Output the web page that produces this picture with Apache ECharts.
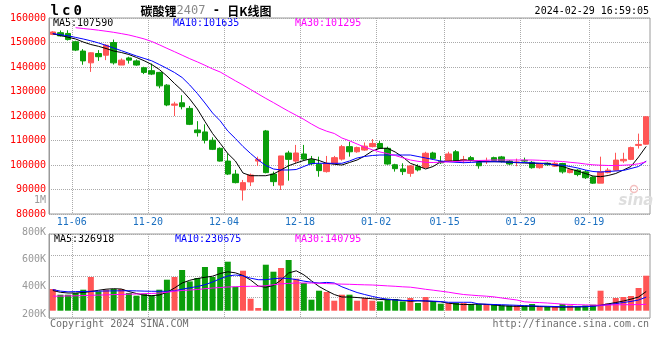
<!DOCTYPE html>
<html><head><meta charset="utf-8">
<script src="https://cdn.jsdelivr.net/npm/echarts/dist/echarts.min.js"></script>
<style>html,body{margin:0;padding:0;background:#fff}#c{width:660px;height:360px}</style>
</head><body><div id="c"></div>
<script>
const dates = ['11-02','11-03','11-06','11-07','11-08','11-09','11-10','11-13','11-14','11-15','11-16','11-17',
'11-20','11-21','11-22','11-23','11-24','11-27','11-28','11-29','11-30','12-01',
'12-04','12-05','12-06','12-07','12-08','12-11','12-12','12-13','12-14','12-15',
'12-18','12-19','12-20','12-21','12-22','12-25','12-26','12-27','12-28','12-29',
'01-02','01-03','01-04','01-05','01-08','01-09','01-10','01-11','01-12',
'01-15','01-16','01-17','01-18','01-19','01-22','01-23','01-24','01-25','01-26',
'01-29','01-30','01-31','02-01','02-02','02-05','02-06','02-07','02-08',
'02-19','02-20','02-21','02-22','02-23','02-26','02-27','02-28','02-29'];
const dateLabels = ['11-06','11-20','12-04','12-18','01-02','01-15','01-29','02-19'];
// [open, close, low, high]
const candles = [
[153300,154300,153000,154600],[154000,152700,152400,154900],[153700,151200,150800,155000],[150300,146900,146500,150700],
[146500,142500,140900,147300],[141700,145800,138000,146000],[145500,144200,142500,146900],[144800,148900,142800,149300],
[150000,141700,141000,151200],[140800,142800,140800,143500],[143700,142800,141400,144200],[142500,140800,140500,143100],
[139700,137800,137100,140100],[138500,137100,136700,141400],[137800,132300,131300,138000],[132600,124500,124000,133000],
[124400,124900,120000,125800],[125400,123800,122700,128500],[123100,116600,116300,124100],[114300,113200,111600,117900],
[113500,110100,108800,116600],[110100,106400,106100,111300],[106800,101600,101400,107200],[101600,96300,95900,104800],
[96300,92800,92500,98000],[89800,92800,85500,93900],[93100,95900,91400,96500],[101600,102300,99600,103400],
[113900,96900,96600,114300],[96300,93200,91400,97300],[91800,103700,89800,103700],[104900,102300,93600,105800],
[101600,104900,100700,108200],[104500,102400,101800,108200],[102200,100500,100000,103700],[100300,97700,95200,103400],
[97300,100700,96900,103700],[100700,103000,100300,103700],[102400,107500,101800,108200],[107500,105400,103400,109500],
[105400,107100,105000,107500],[106100,107700,105800,109200],[107500,108800,107200,110600],[108800,106800,106500,109800],
[106800,100400,100100,107500],[100100,98500,97300,100500],[98400,97300,95900,100700],[96600,99600,95200,100000],
[99300,98000,97400,100300],[99000,104800,98600,105400],[104900,102700,102300,105400],[101400,100900,100400,103700],
[101600,104500,101300,105400],[105400,101800,101400,106100],[102000,102200,100700,103700],[103000,102000,101400,103700],
[101100,99700,98500,101600],[101500,101600,100400,103000],[103000,101800,101400,103400],[103300,101400,101000,103700],
[101600,100400,100000,102000],[101100,101200,99500,102600],[101900,101600,101100,103000],[101100,98900,98500,101600],
[98900,100400,98500,100700],[100700,100100,99700,101000],[99500,100700,99200,101300],[100600,97200,96500,100900],
[96900,98100,96600,98400],[97900,96100,95400,98300],[97200,94800,94300,97900],[95100,92600,92300,95400],
[92600,97200,92600,103400],[96900,97900,96600,98800],[97900,102000,97600,105000],[101700,102300,100900,105000],
[102300,107100,102000,107500],[108000,108400,106700,112800],[108500,119700,108300,119800]];
const ma5 = [153550,152860,152160,151430,150200,149180,148450,147550,146530,145920,
145100,143880,142570,141020,138980,136330,133270,130410,126940,122860,
117760,112860,108860,104690,101630,96730,95630,95630,95630,96330,
97960,99710,100820,101840,102610,101840,100690,100290,100000,101020,
102040,103670,105710,106820,106820,105310,103270,100690,99590,98370,
99390,101350,101550,101710,102040,101840,101430,101350,101350,101350,
101140,100940,100820,100690,100690,100690,100000,99390,98370,97550,
96530,95510,95220,95710,96530,97960,99390,103270,107590];
const ma10 = [153630,153180,152730,152080,151430,150690,149830,148820,147750,146690,
145590,144490,143510,142530,141020,139430,137750,135710,132650,129180,
125310,121220,118040,113880,110820,107550,104690,102040,99800,98370,
97960,97960,98160,99390,100610,100690,100690,100690,100690,101630,
102860,103470,103880,104080,104080,104080,104080,104080,103470,102860,
102240,101630,101310,101100,100940,101060,101220,101310,101350,101260,
101180,101060,100980,100900,100690,100410,100120,99920,99390,98780,
97960,97350,97140,97350,97550,97760,98570,99390,101630];
const ma30 = [null,null,null,156040,155710,155390,155020,154610,154160,153630,
153060,152290,151470,150410,149060,147630,146240,144820,143390,142080,
140690,139220,137960,136160,134370,132650,130820,128980,127180,125470,
123670,121920,120290,118610,116730,115020,113800,112860,111020,109880,
108570,107270,106240,105310,104650,103880,102940,102040,101510,101100,
101020,101140,101260,101430,101630,101710,101840,101920,102040,102040,
102040,102040,102040,102040,101920,101710,101590,101430,101100,100820,
100410,100080,99920,99800,99800,99920,100080,100490,101310];
const volumes = [369000,272000,272000,301000,357000,573000,328000,357000,369000,369000,
301000,255000,289000,260000,357000,527000,573000,692000,498000,556000,
743000,573000,743000,833000,408000,680000,204000,46000,782000,663000,
726000,862000,544000,471000,187000,340000,318000,170000,272000,272000,
170000,216000,170000,158000,204000,199000,158000,216000,131000,233000,
158000,119000,131000,131000,131000,114000,114000,114000,114000,90000,
90000,90000,90000,114000,73000,73000,73000,114000,90000,73000,
90000,102000,340000,124000,216000,233000,250000,386000,595000];
const volMa5 = [343000,313000,301000,301000,309000,326000,347000,366000,374000,369000,
326000,292000,264000,255000,267000,313000,386000,471000,517000,547000,
568000,587000,632000,661000,644000,598000,522000,420000,398000,428000,
522000,641000,678000,610000,508000,411000,340000,275000,233000,233000,
224000,213000,204000,190000,187000,187000,173000,160000,168000,165000,
156000,151000,128000,114000,104000,107000,114000,107000,97000,85000,
77000,75000,75000,75000,71000,66000,63000,60000,63000,65000,
68000,80000,94000,116000,139000,165000,196000,233000,327000];
const volMa10 = [359000,333000,321000,325000,326000,330000,332000,335000,337000,338000,
340000,337000,333000,330000,330000,330000,338000,366000,389000,411000,
442000,488000,542000,590000,607000,593000,553000,527000,527000,544000,
554000,547000,529000,503000,485000,471000,481000,471000,406000,357000,
309000,275000,243000,216000,194000,182000,175000,173000,170000,167000,
163000,155000,143000,143000,143000,143000,114000,111000,105000,102000,
97000,92000,85000,82000,78000,75000,71000,68000,68000,68000,
68000,77000,88000,104000,121000,139000,158000,182000,231000];
const volMa30 = [247000,248000,252000,253000,257000,262000,265000,269000,274000,277000,
281000,284000,289000,294000,299000,313000,332000,343000,352000,360000,
374000,386000,394000,403000,408000,413000,415000,415000,425000,442000,
457000,464000,471000,471000,471000,466000,461000,456000,452000,449000,
444000,440000,437000,430000,422000,415000,406000,400000,383000,364000,
349000,332000,315000,294000,275000,265000,255000,247000,235000,216000,
199000,182000,151000,143000,138000,131000,122000,112000,107000,102000,
99000,95000,94000,97000,100000,102000,102000,104000,109000];
const priceTicks = {min:80000, max:160000, step:10000};
const volTickLabels = {min:200000, max:800000, step:200000};

const UP = '#ff5555', DOWN = '#0a9e0a';
const MONO = '"DejaVu Sans Mono", monospace';
const bounds = [''].concat(dates);
const isLabel = (i, v) => dateLabels.indexOf(v) >= 0;
const dotted = {color:'#aaaaaa', type:'dotted', width:1};
const volData = volumes.map((v, i) => ({value:v, itemStyle:{color: candles[i][1] >= candles[i][0] ? UP : DOWN}}));
const line = (name, data, color, xi, yi) => ({type:'line', name, data, xAxisIndex:xi, yAxisIndex:yi, showSymbol:false,
  symbol:'none', lineStyle:{color, width:1}, itemStyle:{color}, connectNulls:false, z:5});

const chart = echarts.init(document.getElementById('c'), null, {renderer:'canvas'});
chart.setOption({
  animation:false,
  grid:[
    {left:49, right:10, top:18, height:196, show:true, borderColor:'#9a9a9a', borderWidth:1},
    {left:49, right:10, top:234, height:84, show:true, borderColor:'#9a9a9a', borderWidth:1},
    {left:49, right:10, top:232, height:82}
  ],
  xAxis:[
    {type:'category', gridIndex:0, data:dates, show:false},
    {type:'category', gridIndex:0, data:bounds, boundaryGap:false, position:'bottom',
     axisLine:{show:false}, axisTick:{show:false},
     axisLabel:{interval:isLabel, color:'#1a6fc0', fontFamily:MONO, fontSize:10, margin:3},
     splitLine:{show:true, interval:isLabel, lineStyle:dotted}},
    {type:'category', gridIndex:1, data:dates, show:false},
    {type:'category', gridIndex:1, data:bounds, boundaryGap:false,
     axisLine:{show:false}, axisTick:{show:false}, axisLabel:{show:false},
     splitLine:{show:true, interval:isLabel, lineStyle:dotted}},
    {type:'value', gridIndex:2, show:false}
  ],
  yAxis:[
    {type:'value', gridIndex:0, min:priceTicks.min, max:priceTicks.max, interval:priceTicks.step,
     axisLine:{show:true, lineStyle:{color:'#9a9a9a'}}, axisTick:{show:false},
     axisLabel:{color:'#ff0000', fontFamily:MONO, fontSize:10, margin:3, padding:[0,0,3,0], formatter:v => String(v)},
     splitLine:{show:true, lineStyle:dotted}},
    {type:'value', gridIndex:1, min:-124000, max:1304000, interval:357000,
     axisLine:{show:true, lineStyle:{color:'#9a9a9a'}}, axisTick:{show:false}, axisLabel:{show:false},
     splitLine:{show:true, lineStyle:dotted}},
    {type:'value', gridIndex:2, min:volTickLabels.min, max:volTickLabels.max, interval:volTickLabels.step,
     axisLine:{show:false}, axisTick:{show:false}, splitLine:{show:false},
     axisLabel:{color:'#999999', fontFamily:MONO, fontSize:10, margin:3, formatter:v => (v/1000)+'K'}}
  ],
  series:[
    {type:'candlestick', xAxisIndex:0, yAxisIndex:0, data:candles, barWidth:6,
     itemStyle:{color:UP, color0:DOWN, borderColor:UP, borderColor0:DOWN, borderWidth:1}},
    line('MA5', ma5, '#000000', 0, 0),
    line('MA10', ma10, '#0000ff', 0, 0),
    line('MA30', ma30, '#ff00ff', 0, 0),
    {type:'bar', xAxisIndex:2, yAxisIndex:1, data:volData, barWidth:6},
    line('VMA5', volMa5, '#000000', 2, 1),
    line('VMA10', volMa10, '#0000ff', 2, 1),
    line('VMA30', volMa30, '#ff00ff', 2, 1)
  ],
  graphic:[
    {type:'text', x:49, y:11, style:{text:'{s|l}{s|c}{s|0}', align:'left', verticalAlign:'middle',
      rich:{s:{width:11.5, align:'center', fontFamily:MONO, fontSize:14, fontWeight:'bold', fill:'#000'}}}},
    {type:'text', x:206, y:11, style:{text:'{a|碳酸锂}{b|2407}{c| - }{a|日K线图}', align:'center', verticalAlign:'middle',
      rich:{a:{fontFamily:'"Noto Sans CJK SC"', fontSize:12, fontWeight:'bold', fill:'#000'},
            b:{fontFamily:MONO, fontSize:12, fill:'#8a8a8a'},
            c:{fontFamily:MONO, fontSize:12, fontWeight:'bold', fill:'#000'}}}},
    {type:'text', x:649, y:11.5, style:{text:'2024-02-29 16:59:05', font:'10px ' + MONO, fill:'#000', align:'right', verticalAlign:'middle'}},
    {type:'text', x:53, y:23.5, style:{text:'MA5:107590', font:'10px ' + MONO, fill:'#000', align:'left', verticalAlign:'middle'}},
    {type:'text', x:173, y:23.5, style:{text:'MA10:101635', font:'10px ' + MONO, fill:'#0000ff', align:'left', verticalAlign:'middle'}},
    {type:'text', x:295, y:23.5, style:{text:'MA30:101295', font:'10px ' + MONO, fill:'#ff00ff', align:'left', verticalAlign:'middle'}},
    {type:'text', x:54, y:239, style:{text:'MA5:326918', font:'10px ' + MONO, fill:'#000', align:'left', verticalAlign:'middle'}},
    {type:'text', x:175, y:239, style:{text:'MA10:230675', font:'10px ' + MONO, fill:'#0000ff', align:'left', verticalAlign:'middle'}},
    {type:'text', x:295, y:239, style:{text:'MA30:140795', font:'10px ' + MONO, fill:'#ff00ff', align:'left', verticalAlign:'middle'}},
    {type:'text', x:46, y:200.5, style:{text:'1M', font:'10px ' + MONO, fill:'#999999', align:'right', verticalAlign:'middle'}},
    {type:'text', x:50, y:324.5, style:{text:'Copyright 2024 SINA.COM', font:'10px ' + MONO, fill:'#6e6e6e', align:'left', verticalAlign:'middle'}},
    {type:'text', x:649, y:324.5, style:{text:'http://finance.sina.com.cn', font:'10px ' + MONO, fill:'#6e6e6e', align:'right', verticalAlign:'middle'}},
    {type:'circle', shape:{cx:634, cy:189, r:3.5}, style:{fill:'none', stroke:'#f4c0c0', lineWidth:1.5}, z:1},
    {type:'text', x:636, y:201, style:{text:'sina', font:'italic bold 15px "DejaVu Sans"', fill:'#dedede', align:'center', verticalAlign:'middle'}, z:1}
  ]
});
</script></body></html>
